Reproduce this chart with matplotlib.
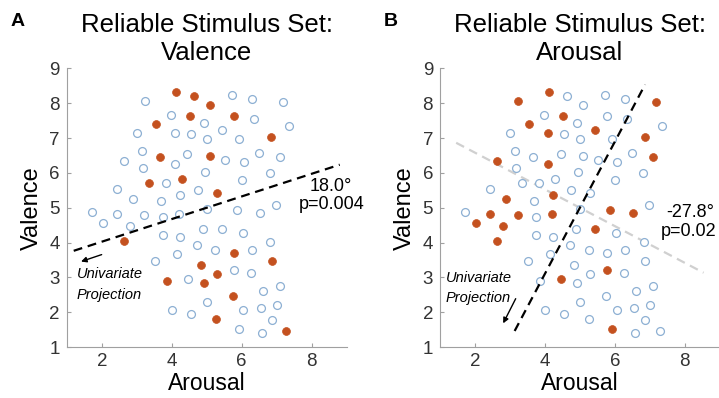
import numpy as np
import matplotlib
matplotlib.use("Agg")
import matplotlib.pyplot as plt

plt.rcParams['font.family'] = ['Liberation Sans', 'DejaVu Sans']

# stimulus ratings (same stimuli in both panels)
arousal = [4.11, 4.64, 5.09, 3.55, 4.52, 5.78, 6.85, 3.65, 5.10, 4.29, 3.34, 5.29,
           2.63, 5.77, 4.84, 6.87, 5.28, 3.86, 4.92, 5.75, 5.26, 7.28,
           3.24, 5.72, 6.29, 7.17, 3.97, 4.92, 6.36, 7.36, 3.01, 4.09, 4.56, 5.00,
           5.44, 5.93, 3.14, 2.63, 4.45, 3.17, 4.09, 5.53, 6.07, 6.50, 7.09, 4.94,
           6.81, 2.43, 3.84, 6.00, 2.89, 4.24, 4.75, 3.68, 1.72, 2.44, 3.22, 3.74,
           4.20, 5.01, 5.86, 6.53, 6.99, 2.03, 2.81, 3.75, 4.23, 4.89, 5.44, 6.03,
           6.82, 4.71, 5.25, 6.29, 4.14, 3.53, 5.77, 6.27, 4.46, 6.61, 7.09, 5.01,
           4.01, 4.54, 6.05, 6.54, 7.01, 5.92, 6.86, 6.59]
valence = [8.31, 8.20, 7.94, 7.40, 7.64, 7.63, 7.03, 6.45, 6.48, 5.83, 5.70, 5.41,
           4.04, 3.71, 3.36, 3.47, 3.09, 2.89, 2.83, 2.48, 1.80, 1.46,
           8.07, 8.24, 8.12, 8.04, 7.66, 7.43, 7.56, 7.36, 7.16, 7.14, 7.11, 6.96,
           7.22, 6.97, 6.62, 6.34, 6.54, 6.13, 6.26, 6.36, 6.30, 6.56, 6.46, 6.02,
           6.01, 5.54, 5.70, 5.80, 5.26, 5.36, 5.52, 5.20, 4.89, 4.83, 4.78, 4.74,
           4.82, 4.97, 4.93, 4.86, 5.09, 4.55, 4.48, 4.22, 4.16, 4.40, 4.38, 4.28,
           4.02, 3.94, 3.79, 3.80, 3.68, 3.48, 3.21, 3.12, 2.95, 2.61, 2.74, 2.28,
           2.07, 1.96, 2.05, 2.11, 2.22, 1.53, 1.79, 1.41]
# selected stimuli per panel (1 = filled)
sel_valence = [1] * 22 + [0] * 68
sel_arousal = [1, 0, 0, 1, 1, 0, 1, 0, 0, 0, 0, 0,
               1, 0, 0, 0, 0, 0, 0, 0, 0, 0,
               1, 0, 0, 1, 0, 0, 0, 0, 0, 1, 0, 0,
               1, 0, 0, 1, 0, 0, 1, 0, 0, 0, 1, 0,
               0, 0, 0, 0, 1, 1, 0, 0, 0, 1, 1, 0,
               1, 0, 1, 1, 0, 1, 1, 0, 0, 0, 1, 0,
               0, 0, 0, 0, 0, 0, 1, 0, 1, 0, 0, 0,
               0, 0, 0, 0, 0, 1, 0, 0]

angle_valence = 18.0
angle_arousal = -27.8
p_valence = "p=0.004"
p_arousal = "p=0.02"

center = (5.0, 5.0)
half_len = 4.0

fill_col = "#c4511f"
open_col = "#8db0d3"

fig = plt.figure(figsize=(7.19, 3.98), dpi=100)
axA = fig.add_axes([0.093, 0.128, 0.389, 0.700])
axB = fig.add_axes([0.612, 0.128, 0.389, 0.700])

a = np.array(arousal)
v = np.array(valence)


def style(ax):
    ax.set_xlim(1, 9)
    ax.set_ylim(1, 9)
    ax.set_xticks([2, 4, 6, 8])
    ax.set_yticks(range(1, 10))
    for s in ["top", "right"]:
        ax.spines[s].set_visible(False)
    for s in ["left", "bottom"]:
        ax.spines[s].set_color("#a0a0a0")
        ax.spines[s].set_linewidth(0.8)
    ax.tick_params(direction="in", length=3, width=0.8, color="#a0a0a0",
                   labelsize=13.5, labelcolor="#333333", pad=5)
    ax.tick_params(axis="x", pad=4)
    ax.set_xlabel("Arousal", fontsize=16.5, labelpad=2)
    ax.set_ylabel("Valence", fontsize=17, labelpad=5)


def scatter(ax, sel):
    sel = np.array(sel, dtype=bool)
    ax.scatter(a[~sel], v[~sel], s=32, facecolors="white", edgecolors=open_col,
               linewidths=0.9, zorder=2)
    ax.scatter(a[sel], v[sel], s=32, color=fill_col, edgecolors=fill_col,
               linewidths=0.5, zorder=3)


def axis_line(ax, deg, **kw):
    t = np.deg2rad(deg)
    dx, dy = half_len * np.cos(t), half_len * np.sin(t)
    ax.plot([center[0] - dx, center[0] + dx], [center[1] - dy, center[1] + dy], **kw)


# panel A
style(axA)
scatter(axA, sel_valence)
axis_line(axA, angle_valence, color="black", lw=1.6, ls=(0, (4, 2.6)), zorder=4)
axA.annotate("", xy=(1.33, 3.43), xytext=(2.07, 3.68),
             arrowprops=dict(arrowstyle="-|>", color="black", lw=1.0,
                             mutation_scale=8))
axA.text(1.28, 3.10, "Univariate", style="italic", fontsize=10.5, va="center")
axA.text(1.28, 2.50, "Projection", style="italic", fontsize=10.5, va="center")
axA.text(8.56, 5.62, "%.1f°" % angle_valence, fontsize=13, ha="center",
         va="center", clip_on=False)
axA.text(8.56, 5.10, p_valence, fontsize=13, ha="center", va="center",
         clip_on=False)
axA.set_title("Reliable Stimulus Set:\nValence", fontsize=18.5, pad=6,
              linespacing=1.2)

# panel B
style(axB)
scatter(axB, sel_arousal)
axis_line(axB, angle_arousal, color="#d0d0d0", lw=1.6, ls=(0, (4, 2.6)), zorder=1)
axis_line(axB, angle_arousal + 90, color="black", lw=1.6, ls=(0, (4, 2.6)), zorder=4)
axB.annotate("", xy=(2.77, 1.61), xytext=(3.20, 2.46),
             arrowprops=dict(arrowstyle="-|>", color="black", lw=1.0,
                             mutation_scale=8))
axB.text(1.17, 2.97, "Univariate", style="italic", fontsize=10.5, va="center")
axB.text(1.17, 2.40, "Projection", style="italic", fontsize=10.5, va="center")
axB.text(8.17, 4.85, "%.1f°" % angle_arousal, fontsize=13, ha="center",
         va="center", clip_on=False)
axB.text(8.12, 4.32, p_arousal, fontsize=13, ha="center", va="center",
         clip_on=False)
axB.set_title("Reliable Stimulus Set:\nArousal", fontsize=18.5, pad=6,
              linespacing=1.2)

fig.text(0.024, 0.945, "A", fontsize=14, fontweight="bold", ha="center", va="center")
fig.text(0.543, 0.945, "B", fontsize=14, fontweight="bold", ha="center", va="center")

fig.savefig("out.png", dpi=100)
